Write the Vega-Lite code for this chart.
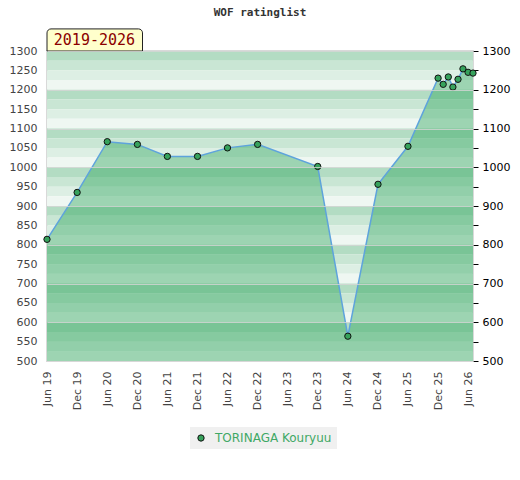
{
  "$schema": "https://vega.github.io/schema/vega-lite/v6.json",
  "width": 426,
  "height": 310,
  "padding": {"left": 9, "top": 7, "right": 5, "bottom": 5},
  "title": {
    "text": "WOF ratinglist",
    "font": "DejaVu Sans Mono",
    "fontSize": 11,
    "fontWeight": "bold",
    "color": "#333333",
    "offset": 10
  },
  "datasets": {
    "rating": [
      {"date": "2019-06-01", "rating": 814, "player": "TORINAGA Kouryuu"},
      {"date": "2019-12-01", "rating": 935, "player": "TORINAGA Kouryuu"},
      {"date": "2020-06-01", "rating": 1066, "player": "TORINAGA Kouryuu"},
      {"date": "2020-12-01", "rating": 1059, "player": "TORINAGA Kouryuu"},
      {"date": "2021-06-01", "rating": 1028, "player": "TORINAGA Kouryuu"},
      {"date": "2021-12-01", "rating": 1028, "player": "TORINAGA Kouryuu"},
      {"date": "2022-06-01", "rating": 1050, "player": "TORINAGA Kouryuu"},
      {"date": "2022-12-01", "rating": 1059, "player": "TORINAGA Kouryuu"},
      {"date": "2023-12-01", "rating": 1002, "player": "TORINAGA Kouryuu"},
      {"date": "2024-06-01", "rating": 564, "player": "TORINAGA Kouryuu"},
      {"date": "2024-12-01", "rating": 956, "player": "TORINAGA Kouryuu"},
      {"date": "2025-06-01", "rating": 1054, "player": "TORINAGA Kouryuu"},
      {"date": "2025-12-01", "rating": 1230, "player": "TORINAGA Kouryuu"},
      {"date": "2026-01-01", "rating": 1214, "player": "TORINAGA Kouryuu"},
      {"date": "2026-02-01", "rating": 1233, "player": "TORINAGA Kouryuu"},
      {"date": "2026-03-01", "rating": 1207, "player": "TORINAGA Kouryuu"},
      {"date": "2026-04-01", "rating": 1227, "player": "TORINAGA Kouryuu"},
      {"date": "2026-05-01", "rating": 1254, "player": "TORINAGA Kouryuu"},
      {"date": "2026-06-01", "rating": 1245, "player": "TORINAGA Kouryuu"},
      {"date": "2026-07-01", "rating": 1243, "player": "TORINAGA Kouryuu"}
    ],
    "bands": [
      {"lo": 1275, "hi": 1300, "shade": "a"}, {"lo": 1250, "hi": 1275, "shade": "b"},
      {"lo": 1225, "hi": 1250, "shade": "c"}, {"lo": 1200, "hi": 1225, "shade": "d"},
      {"lo": 1175, "hi": 1200, "shade": "a"}, {"lo": 1150, "hi": 1175, "shade": "b"},
      {"lo": 1125, "hi": 1150, "shade": "c"}, {"lo": 1100, "hi": 1125, "shade": "d"},
      {"lo": 1075, "hi": 1100, "shade": "a"}, {"lo": 1050, "hi": 1075, "shade": "b"},
      {"lo": 1025, "hi": 1050, "shade": "c"}, {"lo": 1000, "hi": 1025, "shade": "d"},
      {"lo": 975, "hi": 1000, "shade": "a"}, {"lo": 950, "hi": 975, "shade": "b"},
      {"lo": 925, "hi": 950, "shade": "c"}, {"lo": 900, "hi": 925, "shade": "d"},
      {"lo": 875, "hi": 900, "shade": "a"}, {"lo": 850, "hi": 875, "shade": "b"},
      {"lo": 825, "hi": 850, "shade": "c"}, {"lo": 800, "hi": 825, "shade": "d"},
      {"lo": 775, "hi": 800, "shade": "a"}, {"lo": 750, "hi": 775, "shade": "b"},
      {"lo": 725, "hi": 750, "shade": "c"}, {"lo": 700, "hi": 725, "shade": "d"},
      {"lo": 675, "hi": 700, "shade": "a"}, {"lo": 650, "hi": 675, "shade": "b"},
      {"lo": 625, "hi": 650, "shade": "c"}, {"lo": 600, "hi": 625, "shade": "d"},
      {"lo": 575, "hi": 600, "shade": "a"}, {"lo": 550, "hi": 575, "shade": "b"},
      {"lo": 525, "hi": 550, "shade": "c"}, {"lo": 500, "hi": 525, "shade": "d"}
    ],
    "badge": [
      {"start": "2019-06-01", "end": "2021-01-01", "mid": "2020-03-15", "lo": 1300, "hi": 1357, "label": "2019-2026"}
    ]
  },
  "layer": [
    {
      "data": {"name": "bands"},
      "mark": {"type": "rect"},
      "encoding": {
        "y": {
          "field": "lo",
          "type": "quantitative",
          "scale": {"domain": [500, 1300], "nice": false, "zero": false},
          "axis": {
            "orient": "left",
            "values": [500, 550, 600, 650, 700, 750, 800, 850, 900, 950, 1000, 1050, 1100, 1150, 1200, 1250, 1300],
            "tickCount": 20,
            "format": "d",
            "title": null,
            "domain": false,
            "ticks": false,
            "grid": true,
            "gridColor": "#d6d6d6",
            "gridOpacity": {"condition": {"test": "datum.value % 100 == 0", "value": 0.8}, "value": 0},
            "zindex": 1,
            "labelColor": "#444444",
            "labelPadding": 10
          }
        },
        "y2": {"field": "hi"},
        "color": {
          "field": "shade",
          "type": "nominal",
          "scale": {"domain": ["a", "b", "c", "d"], "range": ["#b3dcc3", "#c9e6d4", "#ddefe4", "#eff7f2"]},
          "legend": null
        }
      }
    },
    {
      "data": {"name": "rating"},
      "mark": {"type": "area", "color": "#249f53", "fillOpacity": 0.4},
      "encoding": {
        "x": {
          "field": "date",
          "type": "temporal",
          "scale": {"type": "utc", "domain": [{"year": 2019, "month": 6, "date": 1, "utc": true}, {"year": 2026, "month": 7, "date": 1, "utc": true}]},
          "axis": {
            "title": null,
            "format": "%b %y",
            "values": [
              1559347200000, 1575158400000, 1590969600000, 1606780800000,
              1622505600000, 1638316800000, 1654041600000, 1669852800000,
              1685577600000, 1701388800000, 1717200000000, 1733011200000,
              1748736000000, 1764547200000, 1780272000000
            ],
            "tickCount": 20,
            "labelAngle": -90,
            "labelOverlap": false,
            "labelColor": "#444444",
            "labelPadding": 10,
            "domain": false,
            "ticks": false,
            "grid": false
          }
        },
        "y": {"field": "rating", "type": "quantitative", "axis": null},
        "y2": {"datum": 500}
      }
    },
    {
      "data": {"name": "rating"},
      "transform": [{"filter": "datum.date == '2019-06-01' || datum.date == '2026-07-01'"}],
      "mark": {"type": "rule", "color": "#2a9d56", "strokeWidth": 1.2},
      "encoding": {
        "x": {"field": "date", "type": "temporal"},
        "y": {"field": "rating", "type": "quantitative", "axis": null},
        "y2": {"datum": 500}
      }
    },
    {
      "data": {"name": "rating"},
      "mark": {"type": "line", "color": "#5ea3dc", "strokeWidth": 1.5},
      "encoding": {
        "x": {"field": "date", "type": "temporal"},
        "y": {"field": "rating", "type": "quantitative", "axis": null}
      }
    },
    {
      "data": {"name": "rating"},
      "mark": {"type": "point", "filled": true, "size": 40, "stroke": "#111111", "strokeWidth": 1, "opacity": 1},
      "encoding": {
        "x": {"field": "date", "type": "temporal"},
        "y": {
          "field": "rating",
          "type": "quantitative",
          "axis": {
            "orient": "right",
            "title": null,
            "values": [500, 550, 600, 650, 700, 750, 800, 850, 900, 950, 1000, 1050, 1100, 1150, 1200, 1250, 1300],
            "tickCount": 20,
            "format": "d",
            "labelExpr": "datum.value % 100 == 0 ? datum.label : ''",
            "domain": false,
            "grid": false,
            "ticks": true,
            "tickColor": "#000000",
            "tickSize": 5,
            "labelColor": "#000000",
            "labelPadding": 4
          }
        },
        "color": {
          "field": "player",
          "type": "nominal",
          "scale": {"range": ["#36a25c"]},
          "legend": {
            "title": null,
            "orient": "none",
            "legendX": 143,
            "legendY": 376,
            "direction": "horizontal",
            "fillColor": "#f0f0f0",
            "padding": 5,
            "labelColor": "#3fa865",
            "labelFontSize": 12,
            "labelOffset": 8,
            "symbolType": "circle",
            "symbolSize": 40,
            "symbolStrokeColor": "#111111",
            "symbolStrokeWidth": 1
          }
        }
      }
    },
    {
      "data": {"name": "badge"},
      "mark": {"type": "rect", "fill": "#ffffcc", "stroke": "#222222", "strokeWidth": 1, "cornerRadiusTopLeft": 4, "cornerRadiusTopRight": 4, "clip": false},
      "encoding": {
        "x": {"field": "start", "type": "temporal"},
        "x2": {"field": "end"},
        "y": {"field": "lo", "type": "quantitative", "axis": null},
        "y2": {"field": "hi"}
      }
    },
    {
      "data": {"name": "badge"},
      "mark": {"type": "text", "font": "DejaVu Sans Mono", "fontSize": 15, "color": "#8b0000", "baseline": "middle", "clip": false},
      "encoding": {
        "x": {"field": "mid", "type": "temporal"},
        "y": {"datum": 1328, "axis": null},
        "text": {"field": "label"}
      }
    }
  ],
  "resolve": {"scale": {"color": "independent"}, "axis": {"y": "independent"}},
  "config": {
    "font": "DejaVu Sans",
    "view": {"stroke": "#d9d9d9", "strokeWidth": 2},
    "axis": {"labelFont": "DejaVu Sans", "labelFontSize": 11},
    "axisX": {"labelOverlap": false},
    "legend": {"labelFont": "DejaVu Sans"}
  }
}
